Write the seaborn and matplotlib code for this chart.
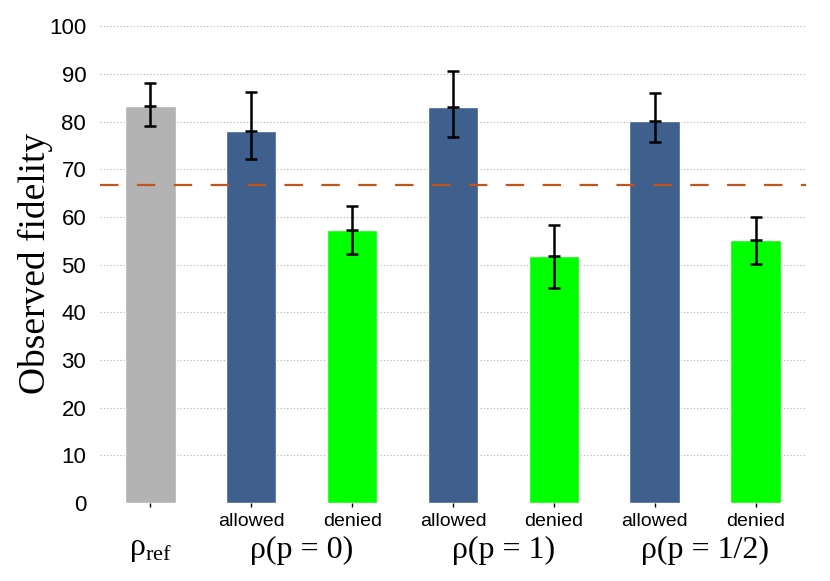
import matplotlib
matplotlib.use("Agg")
import matplotlib.pyplot as plt
import matplotlib.transforms as mtransforms
import numpy as np
import pandas as pd
import seaborn as sns

# Data
categories = ["ref", "allowed0", "denied0", "allowed1", "denied1", "allowedh", "deniedh"]
tick_labels = ["", "allowed", "denied", "allowed", "denied", "allowed", "denied"]
fidelity = [83.2, 78.0, 57.3, 83.1, 51.8, 80.2, 55.2]
err_upper = [88.0, 86.1, 62.2, 90.6, 58.4, 86.0, 60.0]
err_lower = [79.1, 72.2, 52.3, 76.8, 45.1, 75.7, 50.2]
group_labels = ["ρ$_{\\mathrm{ref}}$", "ρ(p = 0)", "ρ(p = 1)", "ρ(p = 1/2)"]
group_centers = [0, 1.5, 3.5, 5.5]
threshold = 200 / 3

colors = ["#b3b3b3", "#3f5f8c", "#00ff00", "#3f5f8c", "#00ff00", "#3f5f8c", "#00ff00"]

sns.set_style("white")
plt.rcParams["font.family"] = ["Liberation Sans", "DejaVu Sans"]
plt.rcParams["mathtext.fontset"] = "custom"
plt.rcParams["mathtext.rm"] = "Liberation Serif"
plt.rcParams["text.color"] = "black"
plt.rcParams["axes.labelcolor"] = "black"
plt.rcParams["xtick.color"] = "black"
plt.rcParams["ytick.color"] = "black"

df = pd.DataFrame({"cat": categories, "fid": fidelity})

fig = plt.figure(figsize=(8.3, 5.81), dpi=100)
ax = fig.add_axes([0.1205, 0.1343, 0.8505, 0.8207])

ax.set_axisbelow(True)
ax.yaxis.grid(True, linestyle=(0, (1, 2)), color="#b0b0b0", linewidth=0.8)

sns.barplot(data=df, x="cat", y="fid", hue="cat", palette=colors, legend=False,
            width=0.5, saturation=1, ax=ax, order=categories)

x = np.arange(len(categories))
yerr = [np.array(fidelity) - np.array(err_lower), np.array(err_upper) - np.array(fidelity)]
ax.errorbar(x, fidelity, yerr=yerr, fmt="none", ecolor="black", elinewidth=1.8,
            capsize=4, capthick=1.8, zorder=5)
ax.plot(x, fidelity, linestyle="none", marker="_", markersize=8,
        markeredgewidth=1.8, color="black", zorder=5)

# 2/3 threshold
ax.axhline(threshold, color="#c0561e", linestyle=(0, (8.3, 8.3)), linewidth=1.6, zorder=4)

ax.set_xlim(-0.5, 6.5)
ax.set_ylim(0, 100)
ax.set_yticks(range(0, 101, 10))
ax.tick_params(axis="y", labelsize=16, length=0, pad=10, labelcolor="black")
ax.set_xticks(x)
ax.set_xticklabels(tick_labels, fontsize=14)
ax.tick_params(axis="x", length=3, width=1, color="black", direction="out", pad=4,
               bottom=True, labelcolor="black")
for s in ax.spines.values():
    s.set_visible(False)

ax.set_xlabel("")
ax.set_ylabel("Observed fidelity", fontsize=27, family="Liberation Serif", color="black")
ax.yaxis.set_label_coords(-0.066, 0.502)

trans = mtransforms.blended_transform_factory(ax.transData, fig.transFigure)
for gx, gl in zip(group_centers, group_labels):
    ax.text(gx, 1 - 550 / 581, gl, transform=trans, ha="center", va="center",
            fontsize=23, family="Liberation Serif", color="black")

fig.savefig("out.png", dpi=100)
